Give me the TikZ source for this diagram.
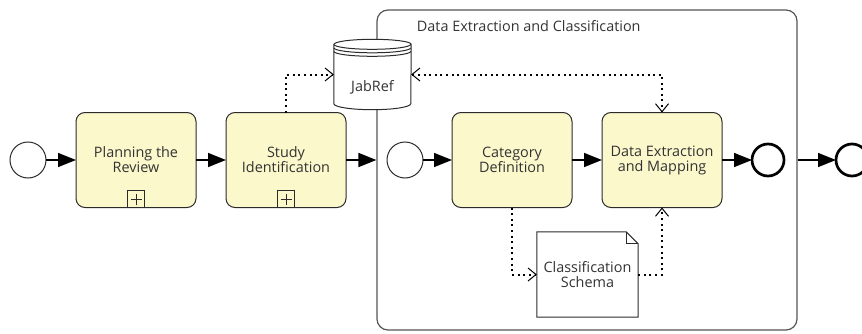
\documentclass[tikz,border=0pt]{standalone}
\usepackage{fontspec}
\setmainfont{Open Sans}
\usepackage{xcolor}
\definecolor{Task Yellow}{HTML}{FBF8CC}
\definecolor{Ink}{HTML}{2B2B2B}
\definecolor{Label}{HTML}{333333}
\definecolor{Lane}{HTML}{555555}
\colorlet{cTask}{Task Yellow}
\usepackage{tikz}
\usetikzlibrary{calc, positioning, arrows.meta}
\tikzset{
	node distance = 30pt,
	font = \fontsize{14.4}{15}\selectfont,
	text = Label,
	task/.style={
		draw=Ink,
		fill=cTask,
		rounded corners=9pt,
		line width=1pt,
		minimum width=120pt,
		minimum height=95pt,
		align=center,
		outer sep=0pt
	},
	start event/.style={
		draw=Ink,
		circle,
		line width=1pt,
		minimum size=36pt,
		inner sep=0pt,
		outer sep=0pt
	},
	end event/.style={
		draw=black,
		circle,
		line width=2.7pt,
		minimum size=32pt,
		inner sep=0pt,
		outer sep=0pt
	},
	plusbox/.style={
		draw=Ink,
		line width=.8pt,
		minimum size=17pt,
		inner sep=0pt,
		outer sep=0pt,
		anchor=south,
		path picture={
			\draw[Ink, line width=.8pt]
				([yshift=-3pt]path picture bounding box.north) -- ([yshift=3pt]path picture bounding box.south)
				([xshift=3pt]path picture bounding box.west) -- ([xshift=-3pt]path picture bounding box.east);
		}
	},
	flow/.style={
		draw=black,
		line width=1.5pt,
		-{Triangle[length=18pt, width=14pt]}
	},
	barb/.tip={Straight Barb[length=8pt, width=13pt, line width=1pt]},
	association/.style={
		draw=black,
		line width=2pt,
		dash pattern=on 2pt off 3.6pt,
		-barb
	},
	store/.style={
		draw=Ink,
		line width=1pt,
		fill=white
	}
}

\begin{document}
\begin{tikzpicture}[x=1pt, y=1pt]
	\useasboundingbox (0,0) rectangle (862,333);

	% top level process
	\node[start event] (start) at (28,173) {};
	\node[task] (plan) [right = of start] {Planning the\\Review};
	\node[task] (study) [right = of plan] {Study\\Identification};
	\node[plusbox] (planplus) at (plan.south) {};
	\node[plusbox] (studyplus) at (study.south) {};

	% expanded sub-process
	\node[draw=Lane, line width=1.2pt, rounded corners=11pt, minimum width=420pt, minimum height=320pt] (pool) at (587,163) {};
	\node[anchor=base west] (pooltitle) at ([xshift=37pt, yshift=-22pt]pool.north west) {Data Extraction and Classification};
	\node[start event] (substart) at (405,173) {};
	\node[task] (catdef) [right = 29pt of substart] {Category\\Definition};
	\node[task] (dem) [right = of catdef] {Data Extraction\\and Mapping};
	\node[end event] (subend) [right = of dem] {};
	\node[end event] (end) at (852,173) {};

	% data store and data object
	\node[minimum width=77pt, minimum height=70pt, inner sep=0pt] (jabref) at (372.5,258.5) {};
	\draw[store] ([yshift=-5pt]jabref.north west) -- ([yshift=6pt]jabref.south west)
		arc[start angle=180, end angle=360, x radius=38.5pt, y radius=6pt]
		-- ([yshift=-5pt]jabref.north east)
		arc[start angle=0, end angle=180, x radius=38.5pt, y radius=5pt] -- cycle;
	\draw[store] ([yshift=-5pt]jabref.north west) arc[start angle=180, end angle=360, x radius=38.5pt, y radius=5pt]
		([yshift=-8.5pt]jabref.north west) arc[start angle=180, end angle=360, x radius=38.5pt, y radius=5pt]
		([yshift=-12pt]jabref.north west) arc[start angle=180, end angle=360, x radius=38.5pt, y radius=5pt];
	\node (jabreftext) at ([yshift=-13pt]jabref.center) {JabRef};

	\node[minimum width=101pt, minimum height=85pt, inner sep=0pt, align=center] (schema) at (587.5,58.5) {Classification\\Schema};
	\draw[store, fill=none] (schema.south west) -- (schema.north west) -- ([xshift=-12pt]schema.north east)
		-- ([yshift=-12pt]schema.north east) -- (schema.south east) -- cycle;
	\draw[store, fill=none, line width=.8pt] ([xshift=-12pt]schema.north east) -- ([xshift=-12pt, yshift=-12pt]schema.north east)
		-- ([yshift=-12pt]schema.north east);

	% sequence flows
	\draw[flow] (start) -- (plan);
	\draw[flow] (plan) -- (study);
	\draw[flow] (study) -- (study -| pool.west);
	\draw[flow] (substart) -- (catdef);
	\draw[flow] (catdef) -- (dem);
	\draw[flow] (dem) -- (subend);
	\draw[flow] (subend -| pool.east) -- (end);

	% associations
	\draw[association] (study.north) |- (jabref.west);
	\draw[association, barb-barb] (jabref.east) -| (dem.north);
	\draw[association] (catdef.south) |- (schema.west);
	\draw[association] (schema.east) -| (dem.south);
\end{tikzpicture}
\end{document}
